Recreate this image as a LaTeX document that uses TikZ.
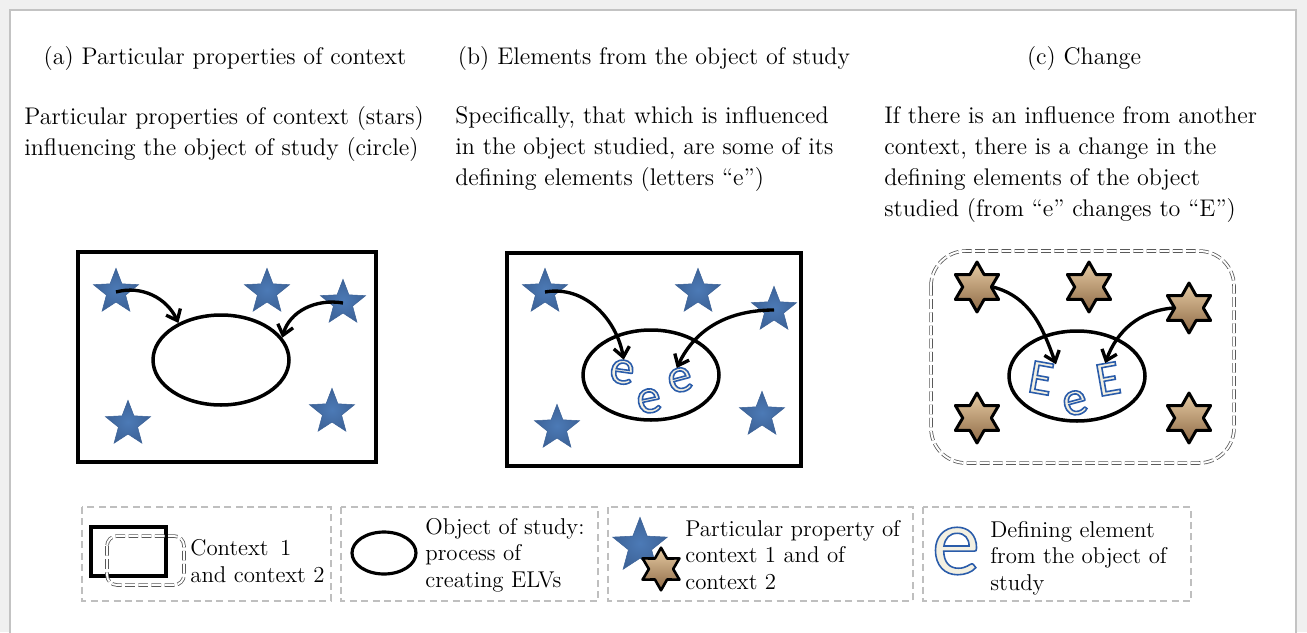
\documentclass[tikz,border=0pt]{standalone}
\usepackage{fontspec}
\newfontfamily\carlito{Carlito}
\usetikzlibrary{positioning,shapes.geometric,arrows.meta}
\definecolor{pagegray}{HTML}{F0F0F0}
\definecolor{framegray}{HTML}{C3C3C3}
\definecolor{starblue}{HTML}{3D6398}
\definecolor{starlight}{HTML}{4C7AB6}
\definecolor{tanlight}{HTML}{E6CBA3}
\definecolor{tanmid}{HTML}{C9A177}
\definecolor{tandark}{HTML}{8E6A46}

% hollow letter: blue rim, cream inside
\newcommand\hollow[1]{\special{pdf:literal direct 0.953 0.941 0.886 rg 0.165 0.361 0.667 RG 2 Tr 0.9 w}#1\special{pdf:literal direct 0 Tr 0 g 0 G}}

\begin{document}
\begin{tikzpicture}[
    x=0.02cm, y=-0.02cm,
    caption/.style={font=\fontsize{13.7}{17.6}\selectfont, align=left, anchor=north west, inner sep=0pt},
    title/.style={font=\fontsize{13.7}{17.6}\selectfont, inner sep=0pt},
    legtext/.style={font=\fontsize{13}{15}\selectfont, align=left, anchor=west, inner sep=0pt},
    ctx/.style={draw=black, line width=2.2pt},
    ctxtwo/.style={draw=black!65, double=white, double distance=1.1pt, line width=0.45pt, dash pattern=on 5.5pt off 2pt},
    object/.style={ellipse, draw=black, line width=2pt, minimum width=2.72cm, minimum height=1.8cm, inner sep=0pt},
    bstar/.style={star, star points=5, star point ratio=2.35, minimum size=0.95cm, inner sep=0pt,
        inner color=starlight, outer color=starblue, draw=starblue, line width=0.3pt},
    hstar/.style={star, star points=6, star point ratio=1.75, minimum size=1.0cm, inner sep=0pt,
        draw=black, line width=1.7pt, line join=round, top color=tanlight, middle color=tanmid, bottom color=tandark},
    letter/.style={font=\fontsize{28}{28}\carlito, inner sep=0pt},
    infl/.style={-{Straight Barb[length=5.5pt,width=9pt]}, line width=1.9pt},
    legbox/.style={draw=black!25, dash pattern=on 4pt off 2.5pt, line width=0.6pt}
]
    \useasboundingbox (0,0) rectangle (1307,632);
    \fill[pagegray] (0,0) rectangle (1307,632);
    \draw[framegray, line width=1.1pt, fill=white] (10,650) -- (10,10) -- (1296,10) -- (1296,650);

    % Titles
    \node[title] (ta) at (225,58) {(a) Particular properties of context};
    \node[title] (tb) at (654,58) {(b) Elements from the object of study};
    \node[title] (tc) at (1084,58) {(c) Change};

    % Descriptions
    \node[caption] (da) at (24,106) {Particular properties of context (stars)\\influencing the object of study (circle)};
    \node[caption] (db) at (455,106) {Specifically, that which is influenced\\in the object studied, are some of its\\defining elements (letters ``e'')};
    \node[caption] (dc) at (884,106) {If there is an influence from another\\context, there is a change in the\\defining elements of the object\\studied (from ``e'' changes to ``E'')};

    % Panel (a)
    \draw[ctx] (78,252) rectangle (376,462);
    \node[object] (obja) at (221,360) {};
    \node[bstar] (sa1) at (116,292) {};
    \node[bstar] (sa2) at (267,292) {};
    \node[bstar] (sa3) at (343,303) {};
    \node[bstar] (sa4) at (128,424) {};
    \node[bstar] (sa5) at (332,412) {};
    \draw[infl] (sa1.center) to[out=15,in=115] (obja.139);
    \draw[infl] (sa3.center) to[out=170,in=75] (obja.20);

    % Panel (b)
    \draw[ctx] (507,253) rectangle (801,466);
    \node[object] (objb) at (651,375) {};
    \node[bstar] (sb1) at (545,292) {};
    \node[bstar] (sb2) at (698,292) {};
    \node[bstar] (sb3) at (774,310) {};
    \node[bstar] (sb4) at (557,428) {};
    \node[bstar] (sb5) at (762,415) {};
    \node[letter, rotate=-8] (eb1) at (622,372) {\hollow{e}};
    \node[letter, rotate=12] (eb2) at (649,401) {\hollow{e}};
    \node[letter, rotate=15] (eb3) at (680,380) {\hollow{e}};
    \draw[infl] (sb1.center) to[out=10,in=100] (eb1.north);
    \draw[infl] (sb3.center) to[out=180,in=65] (eb3.north);

    % Panel (c)
    \draw[ctxtwo, rounded corners=0.7cm] (931,251) rectangle (1234,463);
    \node[object] (objc) at (1077,376) {};
    \node[hstar] (sc1) at (977,287) {};
    \node[hstar] (sc2) at (1089,287) {};
    \node[hstar] (sc3) at (1189,308) {};
    \node[hstar] (sc4) at (977,418) {};
    \node[hstar] (sc5) at (1189,418) {};
    \node[letter, rotate=-10] (ec1) at (1041,378) {\hollow{E}};
    \node[letter, rotate=15] (ec2) at (1075,403) {\hollow{e}};
    \node[letter, rotate=10] (ec3) at (1108,379) {\hollow{E}};
    \draw[infl] (sc1.east) to[out=-15,in=110] (ec1.north east);
    \draw[infl] (sc3.west) to[out=185,in=70] (ec3.north);

    % Legend
    \draw[legbox] (82,507) rectangle (331,601);
    \draw[legbox] (341,507) rectangle (598,601);
    \draw[legbox] (608,507) rectangle (913,601);
    \draw[legbox] (923,507) rectangle (1191,601);

    \draw[ctx, line width=1.8pt] (91,527) rectangle (166,576);
    \draw[ctxtwo, rounded corners=0.2cm] (107,536) rectangle (184,585);
    \node[legtext] (la) at (190,561) {Context\enspace 1\\and context 2};

    \node[object, line width=1.8pt, minimum width=1.28cm, minimum height=0.84cm] (objl) at (384,553) {};
    \node[legtext] (lb) at (425,555) {Object of study:\\process of\\creating ELVs};

    \node[bstar, minimum size=1.15cm] (sl1) at (640,546) {};
    \node[hstar, minimum size=0.85cm, line width=1.5pt] (sl2) at (661,569) {};
    \node[legtext] (lc) at (685,555) {Particular property of\\context 1 and of\\context 2};

    \node[letter, font=\fontsize{55}{55}\carlito] (el) at (956,551) {\hollow{e}};
    \node[legtext] (ld) at (990,558) {Defining element\\from the object of\\study};
\end{tikzpicture}
\end{document}
